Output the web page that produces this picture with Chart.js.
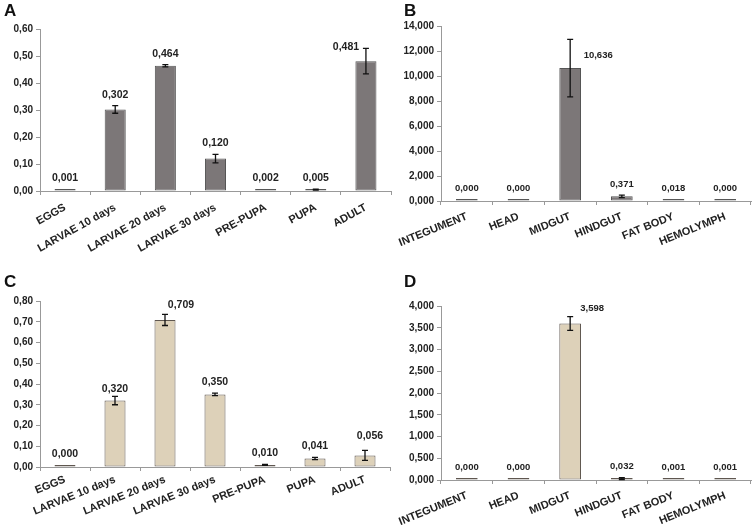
<!DOCTYPE html>
<html>
<head>
<meta charset="utf-8">
<script src="https://cdn.jsdelivr.net/npm/chart.js@4.4.1/dist/chart.umd.min.js"></script>
<style>
  body { margin: 0; background: #fff; }
  #wrap { position: relative; width: 755px; height: 526px; overflow: hidden; }
  canvas { position: absolute; }
  .tag { position: absolute; font: bold 17px "Liberation Sans", Arial, sans-serif; color: #111; }
</style>
</head>
<body>
<div id="wrap">
  <canvas id="chartA" width="395" height="262" style="left:0;top:0"></canvas>
  <canvas id="chartB" width="375" height="262" style="left:380px;top:0"></canvas>
  <canvas id="chartC" width="395" height="264" style="left:0;top:262px"></canvas>
  <canvas id="chartD" width="375" height="264" style="left:380px;top:262px"></canvas>
  <div class="tag" style="left:4px;top:1px">A</div>
  <div class="tag" style="left:404px;top:1px">B</div>
  <div class="tag" style="left:4px;top:272px">C</div>
  <div class="tag" style="left:404px;top:272px">D</div>
</div>
<script>
// development stages (A, C) and tissues (B, D)
const stages = ['EGGS', 'LARVAE 10 days', 'LARVAE 20 days', 'LARVAE 30 days', 'PRE-PUPA', 'PUPA', 'ADULT'];
const tissues = ['INTEGUMENT', 'HEAD', 'MIDGUT', 'HINDGUT', 'FAT BODY', 'HEMOLYMPH'];

const valuesA = [0.001, 0.302, 0.464, 0.120, 0.002, 0.005, 0.481];
const errorsA = [0, 0.014, 0.004, 0.016, 0, 0.002, 0.047];

const valuesB = [0.000, 0.000, 10.636, 0.371, 0.018, 0.000];
const errorsB = [0, 0, 2.3, 0.1, 0, 0];

const valuesC = [0.000, 0.320, 0.709, 0.350, 0.010, 0.041, 0.056];
const errorsC = [0, 0.02, 0.027, 0.006, 0.002, 0.005, 0.024];

const valuesD = [0.000, 0.000, 3.598, 0.032, 0.001, 0.001];
const errorsD = [0, 0, 0.16, 0.02, 0, 0];

const fmt = (v, d) => v.toFixed(d).replace('.', ',');
const FONT = '"Liberation Sans", Arial, sans-serif';

// error bars + value labels above each bar
const barDecor = {
  id: 'barDecor',
  afterDatasetsDraw(chart, args, opts) {
    const ctx = chart.ctx;
    const yScale = chart.scales.y;
    const values = chart.data.datasets[0].data;
    ctx.save();
    chart.getDatasetMeta(0).data.forEach((bar, i) => {
      const err = opts.errors[i];
      let top = bar.y;
      if (err > 0) {
        const hi = yScale.getPixelForValue(values[i] + err);
        const lo = yScale.getPixelForValue(values[i] - err);
        ctx.strokeStyle = '#111';
        ctx.lineWidth = 1.3;
        ctx.beginPath();
        ctx.moveTo(bar.x, hi); ctx.lineTo(bar.x, lo);
        ctx.moveTo(bar.x - 3, hi); ctx.lineTo(bar.x + 3, hi);
        ctx.moveTo(bar.x - 3, lo); ctx.lineTo(bar.x + 3, lo);
        ctx.stroke();
        top = Math.min(top, hi);
      }
      const shift = opts.shifts[i] || [0, 0];
      ctx.fillStyle = '#222';
      ctx.font = opts.font;
      ctx.textAlign = 'center';
      ctx.textBaseline = 'middle';
      ctx.fillText(fmt(values[i], 3), bar.x + shift[0], top - 11 + shift[1]);
    });
    ctx.restore();
  }
};

function makeChart(id, labels, values, errors, cfg) {
  return new Chart(document.getElementById(id), {
    type: 'bar',
    data: {
      labels: labels,
      datasets: [{
        data: values,
        backgroundColor: cfg.fill,
        borderColor: cfg.border,
        borderWidth: 1,
        borderSkipped: false,
        minBarLength: 2,
        barPercentage: 0.84,
        categoryPercentage: 0.5
      }]
    },
    options: {
      responsive: false,
      animation: false,
      devicePixelRatio: 1,
      layout: { padding: cfg.padding },
      plugins: {
        legend: { display: false },
        tooltip: { enabled: false },
        barDecor: { errors: errors, shifts: cfg.shifts, font: cfg.labelFont }
      },
      scales: {
        x: {
          grid: { display: true, drawOnChartArea: false, tickLength: 4, color: '#999', offset: true },
          border: { color: '#999' },
          ticks: {
            autoSkip: false, minRotation: cfg.rot, maxRotation: cfg.rot, padding: cfg.tickPad,
            color: '#222', font: { family: FONT, size: 11, weight: 'bold' }
          },
          afterFit: s => { s.height = cfg.xHeight; }
        },
        y: {
          min: 0, max: cfg.yMax,
          grid: { display: true, drawOnChartArea: false, tickLength: 4, color: '#999' },
          border: { color: '#999' },
          ticks: {
            stepSize: cfg.yStep, padding: 3,
            color: '#222', font: { family: FONT, size: 10, weight: 'bold' },
            callback: v => fmt(v, cfg.decimals)
          },
          afterFit: s => { s.width = cfg.yWidth; }
        }
      }
    },
    plugins: [barDecor]
  });
}

const gray = { fill: '#7c7778', border: '#555' };
const tan = { fill: '#ddd1b9', border: '#5f5750' };

makeChart('chartA', stages, valuesA, errorsA, Object.assign({}, gray, {
  yMax: 0.6, yStep: 0.1, decimals: 2, yWidth: 40, xHeight: 71, rot: 29, tickPad: 6,
  padding: { top: 29, right: 4, left: 0, bottom: 0 },
  labelFont: 'bold 10.5px ' + FONT, shifts: { 6: [-20, 10] }
}));
makeChart('chartB', tissues, valuesB, errorsB, Object.assign({}, gray, {
  yMax: 14, yStep: 2, decimals: 3, yWidth: 61, xHeight: 61, rot: 22, tickPad: 5,
  padding: { top: 26, right: 4, left: 0, bottom: 0 },
  labelFont: 'bold 9.5px ' + FONT, shifts: { 2: [28, 27] }
}));
makeChart('chartC', stages, valuesC, errorsC, Object.assign({}, tan, {
  yMax: 0.8, yStep: 0.1, decimals: 2, yWidth: 40, xHeight: 59, rot: 22, tickPad: 2,
  padding: { top: 39, right: 5, left: 0, bottom: 0 },
  labelFont: 'bold 10.5px ' + FONT, shifts: { 1: [0, 4], 2: [16, 2], 6: [5, -3] }
}));
makeChart('chartD', tissues, valuesD, errorsD, Object.assign({}, tan, {
  yMax: 4, yStep: 0.5, decimals: 3, yWidth: 61, xHeight: 46, rot: 22, tickPad: 5,
  padding: { top: 44, right: 4, left: 0, bottom: 0 },
  labelFont: 'bold 9.5px ' + FONT, shifts: { 2: [22, 3] }
}));
</script>
</body>
</html>
